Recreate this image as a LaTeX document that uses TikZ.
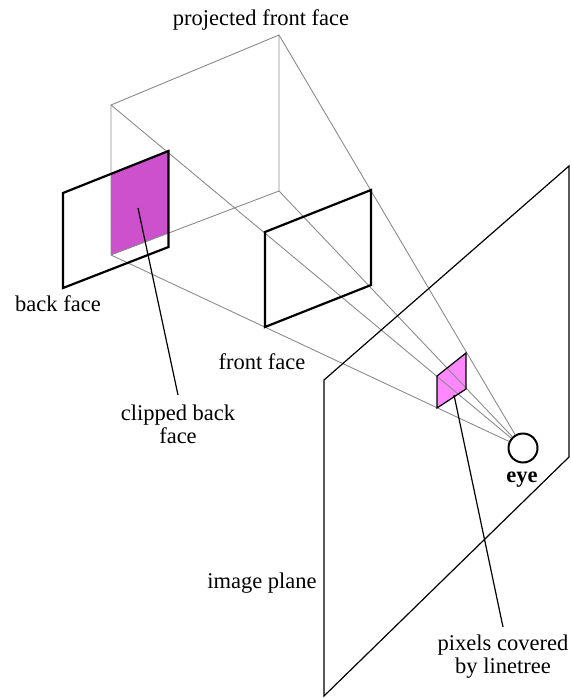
\documentclass[tikz,border=0pt]{standalone}
\usepackage{fontspec}
\setmainfont{Liberation Serif}
\begin{document}
\begin{tikzpicture}[x=1pt,y=-1pt,
  guide/.style={draw=black!45,line width=0.9pt},
  thick face/.style={draw=black,line width=2.2pt,line join=miter},
  thin face/.style={draw=black,line width=1.2pt},
  leader/.style={draw=black,line width=1.2pt},
  lbl/.style={font=\fontsize{22.5}{23}\selectfont,align=center,inner sep=0pt}]
\useasboundingbox (0,0) rectangle (571,698);
\coordinate (pa) at (279,35);
\coordinate (pb) at (111,105);
\coordinate (pc) at (111,255);
\coordinate (pd) at (279,191);
\coordinate (pe) at (454,395);
\coordinate (pf) at (503,627);
\coordinate (ce) at (138,208);
\coordinate (cf) at (178,395);
\fill[fill=white] (0,0) rectangle (571,698);
\node[draw=black,line width=2pt,circle,minimum size=29pt,inner sep=0pt,fill=white] (eye) at (523,448) {};
\fill[fill={rgb,255:red,205;green,80;blue,205}] (111,174)--(168.5,151)--(168.5,233)--(111,255)--cycle;
\fill[fill={rgb,255:red,255;green,135;blue,255}] (437,376)--(466,353)--(466,389)--(437,408)--cycle;
\draw[guide] (pa)--(pb)--(pc)--(pd)--cycle;
\draw[guide] (pa)--(eye) (pb)--(eye) (pc)--(eye) (pd)--(eye);
\draw[thick face] (63,193)--(168.5,151)--(168.5,247)--(63,288)--cycle;
\draw[thick face] (265,232)--(371,190)--(371,285)--(265,327)--cycle;
\draw[thin face] (437,376)--(466,353)--(466,389)--(437,408)--cycle;
\draw[thin face] (324,380)--(569,166)--(569,457)--(324,696)--cycle;
\draw[leader] (ce)--(cf);
\draw[leader] (pe)--(pf);
\node[lbl] (l1) at (261,20) {projected front face};
\node[lbl] (l2) at (58,304) {back face};
\node[lbl] (l3) at (262,362) {front face};
\node[lbl] (l4) at (178,424) {clipped back\\face};
\node[lbl,font=\fontsize{22.5}{23}\selectfont\bfseries] (l5) at (522,480) {eye};
\node[lbl] (l6) at (262,583) {image plane};
\node[lbl] (l7) at (503,657) {pixels covered\\by linetree};
\end{tikzpicture}
\end{document}
